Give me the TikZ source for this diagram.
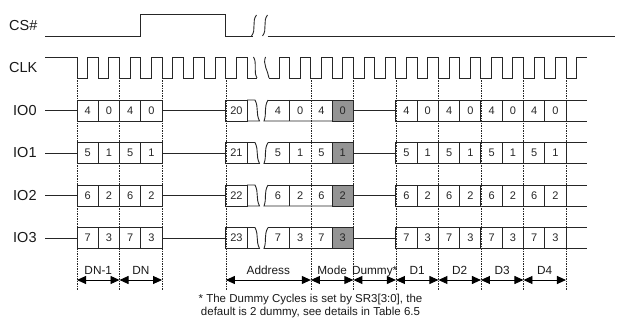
\documentclass[tikz,border=0pt]{standalone}
\usepackage{fontspec}
\setmainfont{Liberation Sans}
\usetikzlibrary{arrows.meta,calc}
\begin{document}
\begin{tikzpicture}[x=1pt,y=-1pt,
  sig/.style={line width=0.9pt, draw=black!85, line join=miter},
  guide/.style={line width=0.6pt, dash pattern=on 1.5pt off 1pt, draw=black!85},
  cellbox/.style={line width=0.9pt, draw=black!85},
  digit/.style={font=\fontsize{11}{12}\selectfont, inner sep=0pt, text=black!85},
  siglabel/.style={font=\fontsize{14.5}{16}\selectfont, anchor=west, inner sep=0pt, text=black!90},
  dimlabel/.style={font=\fontsize{11.8}{13}\selectfont, inner sep=0pt, anchor=base, text=black!90},
  dimarrow/.style={line width=0.9pt, draw=black, {Triangle[length=9pt,width=8pt]}-{Triangle[length=9pt,width=8pt]}},
  note/.style={font=\fontsize{11.5}{13}\selectfont, align=center, inner sep=0pt, text=black!90},
  darkcell/.style={fill=black!42},
]
\useasboundingbox (0,0) rectangle (617,320);
\def\w{21.26}
% guide lines
\foreach \k in {0,2,4,7,11,13,15,17,19,21,23} {
  \draw[guide] ({77+\k*\w},78) -- ({77+\k*\w},290);
  \coordinate (g\k) at ({77+\k*\w},280);
}
% labels
\node[siglabel] (cs) at (9,26) {CS\#};
\node[siglabel] (clk) at (9,68) {CLK};
% CS#
\draw[sig] (45,36) -- ({77+3*\w},36) -- ({77+3*\w},14.5) -- ({77+7*\w},14.5) -- ({77+7*\w},36) -- (252.5,36);
\draw[sig] (267.5,36) -- (615,36);
\draw[sig] (251.5,36) .. controls (256.5,30) and (251.5,21) .. (256.5,15);
\draw[sig] (262.5,36) .. controls (267.5,30) and (262.5,21) .. (267.5,15);
% CLK
\draw[sig] (45,57) -- (77,57) -- (77,78)
  \foreach \k in {0,...,7} { -- ({77+(\k+0.5)*\w},78) -- ({77+(\k+0.5)*\w},57) -- ({77+(\k+1)*\w},57) -- ({77+(\k+1)*\w},78) }
  -- (257,78);
\draw[sig] (269,78)
  \foreach \k in {9,...,22} { -- ({77+(\k+0.5)*\w},78) -- ({77+(\k+0.5)*\w},57) -- ({77+(\k+1)*\w},57) -- ({77+(\k+1)*\w},78) }
  -- ({77+23.5*\w},78) -- ({77+23.5*\w},57) -- (587,57);
\draw[sig] (253.5,57) .. controls (257.5,64) and (253,71) .. (257,78);
\draw[sig] (265.5,57) .. controls (262.5,64) and (268,71) .. (269,78);
% IO rows
\foreach \r/\va/\vb/\vad in {0/4/0/20,1/5/1/21,2/6/2/22,3/7/3/23} {
  \pgfmathsetmacro\mm{110.5+42.5*\r}
  \pgfmathsetmacro\mt{\mm-10.5}
  \pgfmathsetmacro\mb{\mm+10.5}
  \node[siglabel] (io\r) at (13,\mm) {IO\r};
  \draw[sig] (45,\mm) -- (77,\mm);
  \foreach \k/\v in {0/\va,1/\vb,2/\va,3/\vb} {
    \draw[cellbox] ({77+\k*\w},\mt) rectangle ({77+(\k+1)*\w},\mb);
    \node[digit] (c\r-\k) at ({77+(\k+0.5)*\w},\mm) {\v};
  }
  \draw[sig] ({77+4*\w},\mm) -- ({77+7*\w},\mm);
  \draw[cellbox] ({77+7*\w},\mt) rectangle ({77+8*\w},\mb);
  \node[digit] (c\r-7) at ({77+7.5*\w},\mm) {\vad};
  \draw[cellbox] ({77+8*\w},\mt) -- (255,\mt) .. controls (259,\mt+8) and (255.5,\mb-8) .. (259.5,\mb) -- ({77+8*\w},\mb);
  \draw[cellbox] (268,\mt) .. controls (263.5,\mt+8) and (267,\mb-8) .. (264,\mb) -- ({77+13*\w},\mb);
  \draw[cellbox] (268,\mt) -- ({77+13*\w},\mt);
  \fill[darkcell] ({77+12*\w},\mt) rectangle ({77+13*\w},\mb);
  \draw[cellbox] ({77+12*\w},\mt) rectangle ({77+13*\w},\mb);
  \draw[cellbox] ({77+10*\w},\mt) -- ({77+10*\w},\mb);
  \node[digit] (c\r-9) at ({77+9.45*\w},\mm) {\va};
  \node[digit] (c\r-10) at ({77+10.5*\w},\mm) {\vb};
  \node[digit] (c\r-11) at ({77+11.5*\w},\mm) {\va};
  \node[digit] (c\r-12) at ({77+12.5*\w},\mm) {\vb};
  \draw[sig] ({77+13*\w},\mm) -- ({77+15*\w},\mm);
  \foreach \k/\v in {15/\va,16/\vb,17/\va,18/\vb,19/\va,20/\vb,21/\va,22/\vb} {
    \draw[cellbox] ({77+\k*\w},\mt) rectangle ({77+(\k+1)*\w},\mb);
    \node[digit] (c\r-\k) at ({77+(\k+0.5)*\w},\mm) {\v};
  }
  \draw[cellbox] ({77+23*\w},\mt) -- (587,\mt);
  \draw[cellbox] ({77+23*\w},\mb) -- (587,\mb);
}
% dimension arrows
\foreach \a/\b/\t in {0/2/DN-1,2/4/DN,7/11/Address,11/13/Mode,13/15/Dummy*,15/17/D1,17/19/D2,19/21/D3,21/23/D4} {
  \draw[dimarrow] (g\a) -- (g\b);
  \node[dimlabel] (lab\a) at ($(g\a)!0.5!(g\b)+(0,-5.5)$) {\t};
}
\node[note] (fn) at (310.5,306.5) {* The Dummy Cycles is set by SR3[3:0], the\\default is 2 dummy, see details in Table 6.5};
\end{tikzpicture}
\end{document}
